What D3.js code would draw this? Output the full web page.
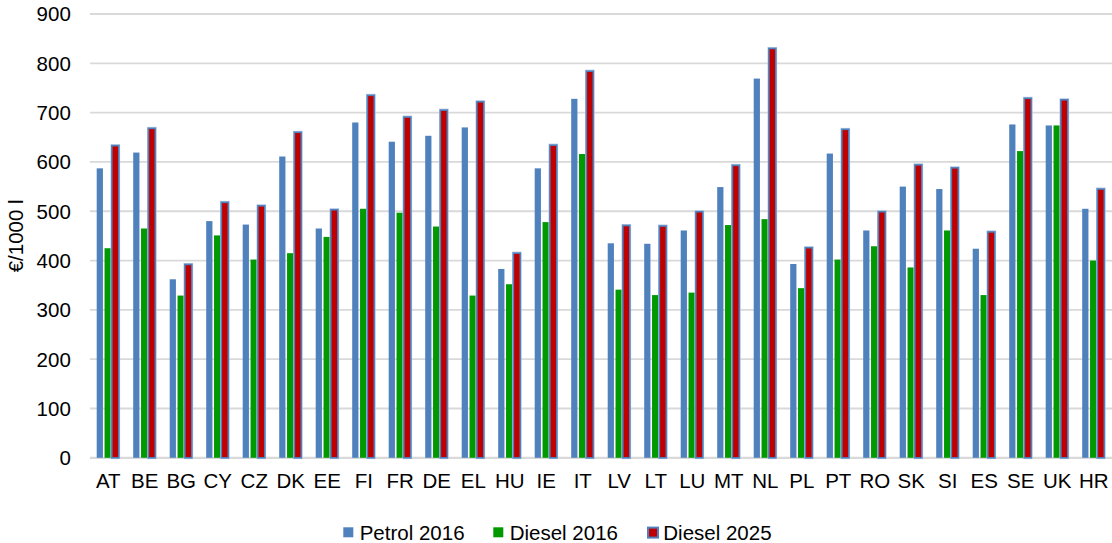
<!DOCTYPE html>
<html>
<head>
<meta charset="utf-8">
<script src="https://cdn.jsdelivr.net/npm/d3@7"></script>
<style>
  body { margin: 0; background: #fff; }
  svg { display: block; font-family: "Liberation Sans", Arial, sans-serif; }
</style>
</head>
<body>
<svg width="1112" height="543"></svg>
<script>
// chart data
const categories = ['AT', 'BE', 'BG', 'CY', 'CZ', 'DK', 'EE', 'FI', 'FR', 'DE', 'EL', 'HU', 'IE', 'IT',
  'LV', 'LT', 'LU', 'MT', 'NL', 'PL', 'PT', 'RO', 'SK', 'SI', 'ES', 'SE', 'UK', 'HR'];
const seriesNames = ['Petrol 2016', 'Diesel 2016', 'Diesel 2025'];
const petrol2016 = [587, 619, 362, 480, 473, 611, 465, 680, 641, 653, 670, 383, 587, 728,
  435, 434, 461, 549, 769, 393, 617, 461, 550, 545, 424, 676, 674, 505];
const diesel2016 = [425, 465, 329, 451, 402, 415, 448, 505, 497, 469, 329, 352, 478, 616,
  341, 330, 335, 472, 484, 344, 402, 429, 386, 461, 330, 622, 674, 400];
const diesel2025 = [633, 668, 392, 518, 511, 660, 503, 735, 691, 705, 722, 415, 634, 784,
  471, 470, 499, 593, 830, 426, 666, 499, 594, 588, 458, 729, 726, 545];
const yTicks = [0, 100, 200, 300, 400, 500, 600, 700, 800, 900];
const yTitle = '€/1000 l';

const colors = {
  'Petrol 2016': '#4f81bd',
  'Diesel 2016': '#009a00',
  'Diesel 2025': '#c00000'
};

const svg = d3.select('svg');
const fontSize = 20.5;

const x = d3.scaleBand().domain(categories).range([90, 1112]);
const xSub = d3.scaleBand().domain(seriesNames).range([6.5, 30]);
const y = d3.scaleLinear().domain([0, 900]).range([457.8, 14]);

// gridlines
svg.append('g')
  .selectAll('line')
  .data(yTicks)
  .join('line')
  .attr('x1', 90)
  .attr('x2', 1112)
  .attr('y1', d => y(d))
  .attr('y2', d => y(d))
  .attr('stroke', '#d9d9d9')
  .attr('stroke-width', d => d === 0 ? 2.2 : 1.8);

// y tick labels
svg.append('g')
  .selectAll('text')
  .data(yTicks)
  .join('text')
  .attr('x', 70.8)
  .attr('y', d => y(d))
  .attr('dy', '0.36em')
  .attr('text-anchor', 'end')
  .attr('font-size', fontSize)
  .attr('fill', '#000')
  .text(d => d);

// y title
svg.append('text')
  .attr('transform', `translate(23, ${(y(0) + y(900)) / 2}) rotate(-90)`)
  .attr('text-anchor', 'middle')
  .attr('font-size', fontSize)
  .attr('fill', '#000')
  .text(yTitle);

// category labels
svg.append('g')
  .selectAll('text')
  .data(categories)
  .join('text')
  .attr('x', d => x(d) + x.bandwidth() / 2)
  .attr('y', 487.8)
  .attr('text-anchor', 'middle')
  .attr('font-size', fontSize)
  .attr('fill', '#000')
  .text(d => d);

// bars
const rows = categories.map((c, i) => ({
  cat: c,
  values: [petrol2016[i], diesel2016[i], diesel2025[i]]
}));

const groups = svg.append('g')
  .selectAll('g')
  .data(rows)
  .join('g')
  .attr('transform', d => `translate(${x(d.cat)},0)`);

groups.each(function (row) {
  let g = d3.select(this);
  seriesNames.forEach((name, k) => {
    let v = row.values[k];
    if (name === 'Diesel 2025') {
      // red bar with blue outline
      g.append('rect')
        .attr('x', xSub(name) - 0.3)
        .attr('y', y(v) - 0.2)
        .attr('width', xSub.bandwidth() - 0.9)
        .attr('height', y(0) - y(v) + 0.2)
        .attr('fill', 'none')
        .attr('stroke', '#a9c1e0')
        .attr('stroke-width', 2.6);
      g.append('rect')
        .attr('x', xSub(name) - 0.3)
        .attr('y', y(v))
        .attr('width', xSub.bandwidth() - 0.9)
        .attr('height', y(0) - y(v))
        .attr('fill', colors[name])
        .attr('stroke', '#4f81bd')
        .attr('stroke-width', 1.5);
    } else {
      g.append('rect')
        .attr('x', xSub(name) + 0.2)
        .attr('y', y(v))
        .attr('width', xSub.bandwidth() - 1.6)
        .attr('height', y(0) - y(v))
        .attr('fill', colors[name]);
    }
  });
});

// legend
const legendX = [343.3, 493.3, 646.7];
const legend = svg.append('g')
  .selectAll('g')
  .data(seriesNames)
  .join('g')
  .attr('transform', (d, i) => `translate(${legendX[i]}, 527.3)`);

legend.append('rect')
  .attr('x', d => d === 'Diesel 2025' ? 1.3 : 0)
  .attr('y', d => d === 'Diesel 2025' ? 0.3 : 0)
  .attr('width', 10)
  .attr('height', 10)
  .attr('fill', d => colors[d])
  .attr('stroke', d => d === 'Diesel 2025' ? '#4f81bd' : 'none')
  .attr('stroke-width', 2);

legend.append('text')
  .attr('x', d => d === 'Diesel 2025' ? 16.6 : 16.4)
  .attr('y', 12.8)
  .attr('font-size', fontSize)
  .attr('fill', '#000')
  .text(d => d);
</script>
</body>
</html>
